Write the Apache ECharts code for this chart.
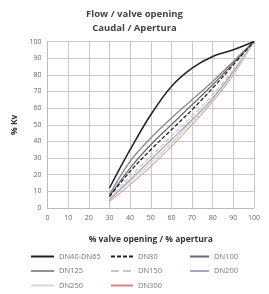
<!DOCTYPE html>
<html>
<head>
<meta charset="utf-8">
<script src="https://cdn.jsdelivr.net/npm/echarts@6/dist/echarts.min.js"></script>
<style>
  html, body { margin: 0; padding: 0; background: #fff; }
  #chart { width: 269px; height: 294px; }
</style>
</head>
<body>
<div id="chart"></div>
<script>
// valve opening (%) where each curve is read
var opening = [30, 40, 50, 60, 70, 80, 90, 100];

var dn40_65 = [12, 35, 56, 73, 84, 91, 95, 100];
var dn80 = [7, 22, 35, 47, 59, 72, 86, 100];
var dn100 = [7, 24, 38, 50, 62, 74, 87, 100];
var dn125 = [8, 28, 42, 54, 65, 76, 88, 100];
var dn150 = [6, 19, 31, 43, 55, 68, 83, 100];
var dn200 = [5, 17, 29, 41, 53, 66, 82, 100];
var dn250 = [5, 16, 27, 39, 52, 65, 81, 100];
var dn300 = [4, 14, 25, 37, 50, 64, 80, 100];

var font = 'Open Sans';

function pairs(vals) {
    return opening.map(function (x, i) { return [x, vals[i]]; });
}

function line(name, vals, color, width, type) {
    return {
        name: name,
        type: 'line',
        smooth: 0.35,
        symbol: 'none',
        data: pairs(vals),
        lineStyle: { color: color, width: width, type: type || 'solid' },
        itemStyle: { color: color }
    };
}

var legendText = { fontFamily: font, fontSize: 7.5, color: '#777' };

function legendCol(left, width, names) {
    return {
        orient: 'vertical',
        left: left,
        top: 252.5,
        padding: 0,
        height: 60,
        itemWidth: width,
        itemHeight: 8,
        itemGap: 6.5,
        itemStyle: { opacity: 0 },
        textStyle: legendText,
        data: names
    };
}

var chart = echarts.init(document.getElementById('chart'));
chart.setOption({
    animation: false,
    title: {
        text: 'Flow / valve opening\nCaudal / Apertura',
        left: 'center',
        top: 2,
        textStyle: { fontFamily: font, fontSize: 9.5, fontWeight: 'bold', color: '#444', lineHeight: 14 }
    },
    legend: [
        legendCol(30, 23, ['DN40-DN65', 'DN125', 'DN250']),
        legendCol(110, 22, ['DN80', 'DN150', 'DN300']),
        legendCol(189, 19, ['DN100', 'DN200'])
    ],
    grid: { left: 47.5, right: 15, top: 41.5, bottom: 86 },
    xAxis: {
        type: 'value',
        min: 0, max: 100, interval: 10,
        name: '% valve opening / % apertura',
        nameLocation: 'middle',
        nameGap: 27,
        nameTextStyle: { fontFamily: font, fontSize: 8.5, fontWeight: 'bold', color: '#333' },
        axisLine: { lineStyle: { color: '#bbb' } },
        axisTick: { show: false },
        axisLabel: { fontFamily: font, fontSize: 7, color: '#666', margin: 6 },
        splitLine: { lineStyle: { color: '#c8c8c8', width: 1 } }
    },
    yAxis: {
        type: 'value',
        min: 0, max: 100, interval: 10,
        name: '% Kv',
        nameLocation: 'middle',
        nameGap: 24,
        nameTextStyle: { fontFamily: font, fontSize: 8.5, fontWeight: 'bold', color: '#333' },
        axisLine: { show: true, lineStyle: { color: '#bbb' } },
        axisTick: { show: false },
        axisLabel: { fontFamily: font, fontSize: 7, color: '#666', margin: 6 },
        splitLine: { lineStyle: { color: '#c8c8c8', width: 1 } }
    },
    series: [
        line('DN300', dn300, '#d98080', 1),
        line('DN250', dn250, '#d8d8d8', 1.5),
        line('DN200', dn200, '#a5a5c8', 1.2),
        line('DN150', dn150, '#c8c8c8', 1.2, 'dashed'),
        line('DN125', dn125, '#909090', 1.5),
        line('DN100', dn100, '#6a6a6a', 1.2),
        line('DN80', dn80, '#222', 1.3, [4, 2]),
        line('DN40-DN65', dn40_65, '#222', 1.5)
    ]
});
</script>
</body>
</html>
